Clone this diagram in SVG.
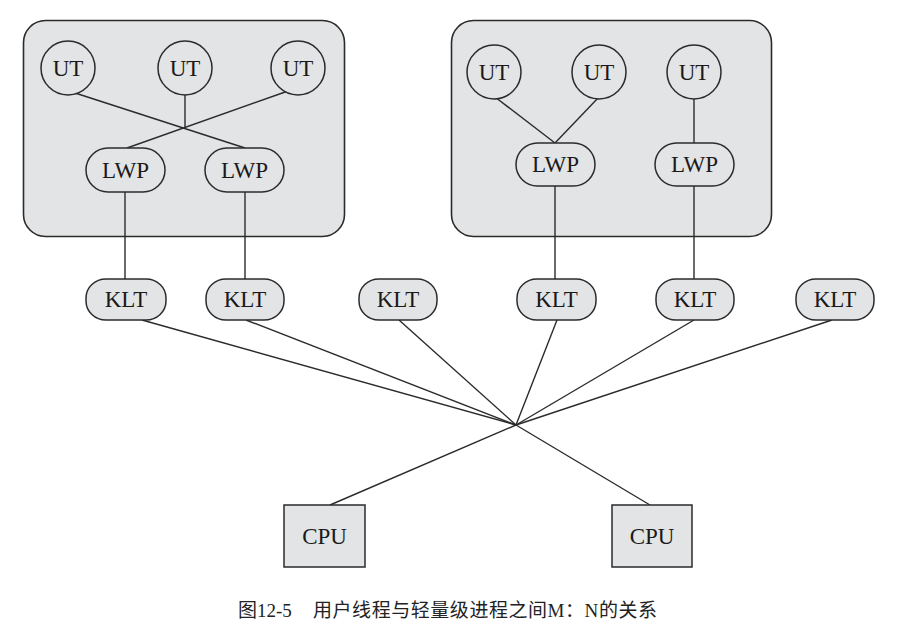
<svg xmlns="http://www.w3.org/2000/svg" width="906" height="635" viewBox="0 0 906 635">
<style>
.box{fill:#e3e4e5;stroke:#2b2b2b;stroke-width:1.6}
.node{fill:#e3e4e5;stroke:#2b2b2b;stroke-width:1.5}
.t{font-family:"Liberation Serif","Times New Roman",serif;font-size:23px;fill:#1a1a1a;text-anchor:middle;dominant-baseline:central}
.cap{font-family:"Liberation Serif","Noto Sans CJK SC",serif;font-size:19px;fill:#222}
.ln{stroke:#2b2b2b;stroke-width:1.4;fill:none}
</style>
<rect width="906" height="635" fill="#ffffff"/>
<g id="process1"><rect class="box" x="23.5" y="20.5" width="321" height="216" rx="22"/></g>
<g id="process2"><rect class="box" x="451.5" y="20.5" width="320" height="216" rx="22"/></g>
<g id="connectors">
<line class="ln" x1="72" y1="92" x2="245" y2="148"/>
<line class="ln" x1="185" y1="95" x2="185" y2="128"/>
<line class="ln" x1="288" y1="91" x2="127" y2="148"/>
<line class="ln" x1="125" y1="192" x2="125" y2="280"/>
<line class="ln" x1="245" y1="192" x2="245" y2="280"/>
<line class="ln" x1="495" y1="97" x2="555" y2="143"/>
<line class="ln" x1="599" y1="97" x2="555" y2="143"/>
<line class="ln" x1="694" y1="99" x2="694" y2="143"/>
<line class="ln" x1="555" y1="186" x2="555" y2="280"/>
<line class="ln" x1="694" y1="186" x2="694" y2="280"/>
<line class="ln" x1="142" y1="320" x2="516" y2="425"/>
<line class="ln" x1="246" y1="320" x2="516" y2="425"/>
<line class="ln" x1="399" y1="320" x2="516" y2="425"/>
<line class="ln" x1="557" y1="320" x2="516" y2="425"/>
<line class="ln" x1="694" y1="320" x2="516" y2="425"/>
<line class="ln" x1="832" y1="320" x2="516" y2="425"/>
<line class="ln" x1="516" y1="425" x2="330" y2="505"/>
<line class="ln" x1="516" y1="425" x2="650" y2="505"/>
</g>
<g id="ut1"><circle class="node" cx="68" cy="68" r="27"/><text class="t" x="68" y="68">UT</text></g>
<g id="ut2"><circle class="node" cx="185" cy="68" r="27"/><text class="t" x="185" y="68">UT</text></g>
<g id="ut3"><circle class="node" cx="298" cy="68" r="27"/><text class="t" x="298" y="68">UT</text></g>
<g id="ut4"><circle class="node" cx="494" cy="72" r="27"/><text class="t" x="494" y="72">UT</text></g>
<g id="ut5"><circle class="node" cx="599" cy="72" r="27"/><text class="t" x="599" y="72">UT</text></g>
<g id="ut6"><circle class="node" cx="694" cy="72" r="27"/><text class="t" x="694" y="72">UT</text></g>
<g id="lwp1"><rect class="node" x="86" y="148" width="79" height="44" rx="22"/><text class="t" x="125.5" y="170">LWP</text></g>
<g id="lwp2"><rect class="node" x="205" y="148" width="79" height="44" rx="22"/><text class="t" x="244.5" y="170">LWP</text></g>
<g id="lwp3"><rect class="node" x="516" y="143" width="79" height="43" rx="21.5"/><text class="t" x="555.5" y="164.5">LWP</text></g>
<g id="lwp4"><rect class="node" x="655" y="143" width="79" height="43" rx="21.5"/><text class="t" x="694.5" y="164.5">LWP</text></g>
<g id="klt1"><rect class="node" x="86" y="279" width="80" height="41" rx="20" ry="19"/><text class="t" x="126" y="299.5">KLT</text></g>
<g id="klt2"><rect class="node" x="206" y="279" width="78" height="41" rx="20" ry="19"/><text class="t" x="245" y="299.5">KLT</text></g>
<g id="klt3"><rect class="node" x="359" y="279" width="78" height="41" rx="20" ry="19"/><text class="t" x="398" y="299.5">KLT</text></g>
<g id="klt4"><rect class="node" x="517" y="279" width="79" height="41" rx="20" ry="19"/><text class="t" x="556.5" y="299.5">KLT</text></g>
<g id="klt5"><rect class="node" x="656" y="279" width="78" height="41" rx="20" ry="19"/><text class="t" x="695" y="299.5">KLT</text></g>
<g id="klt6"><rect class="node" x="796" y="279" width="78" height="41" rx="20" ry="19"/><text class="t" x="835" y="299.5">KLT</text></g>
<g id="cpu1"><rect class="node" x="284" y="505" width="81" height="62"/><text class="t" x="324.5" y="536">CPU</text></g>
<g id="cpu2"><rect class="node" x="612" y="505" width="80" height="62"/><text class="t" x="652" y="536">CPU</text></g>
<g id="caption"><text class="cap" x="238" y="617">图12-5<tspan x="313" textLength="344" lengthAdjust="spacing">用户线程与轻量级进程之间M：N的关系</tspan></text></g>
</svg>
